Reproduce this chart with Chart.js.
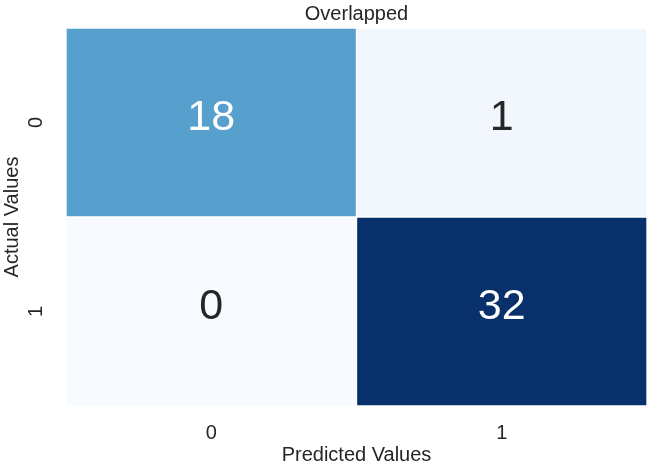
<!DOCTYPE html>
<html>
<head>
<meta charset="utf-8">
<script src="https://cdn.jsdelivr.net/npm/chart.js@4"></script>
<style>
  html, body { margin: 0; padding: 0; background: #ffffff; }
  #wrap { width: 650px; height: 468px; }
</style>
</head>
<body>
<div id="wrap"><canvas id="chart1" width="650" height="468"></canvas></div>
<script>
// confusion matrix values
const predictedLabels = ['0', '1'];
const actualLabels = ['0', '1'];
const row0 = [18, 1];
const row1 = [0, 32];
const matrix = [row0, row1];

// seaborn "Blues" colour stops
const bluesStops = ['#f7fbff', '#deebf7', '#c6dbef', '#9ecae1', '#6baed6', '#4292c6', '#2171b5', '#08519c', '#08306b'];

function hexToRgb(h) {
    return [parseInt(h.substr(1, 2), 16), parseInt(h.substr(3, 2), 16), parseInt(h.substr(5, 2), 16)];
}

function blues(t) {
    t = Math.max(0, Math.min(1, t));
    var pos = t * (bluesStops.length - 1);
    var i = Math.min(Math.floor(pos), bluesStops.length - 2);
    var f = pos - i;
    var a = hexToRgb(bluesStops[i]), b = hexToRgb(bluesStops[i + 1]);
    var c = a.map(function (v, k) { return Math.round(v + (b[k] - v) * f); });
    return 'rgb(' + c[0] + ',' + c[1] + ',' + c[2] + ')';
}

var allValues = [].concat.apply([], matrix);
var vmin = Math.min.apply(null, allValues);
var vmax = Math.max.apply(null, allValues);
var nRows = actualLabels.length;

// stacked bars, bottom row first
var datasets = [];
for (var i = nRows - 1; i >= 0; i--) {
    datasets.push({
        label: actualLabels[i],
        data: predictedLabels.map(function () { return 1; }),
        backgroundColor: matrix[i].map(function (v) { return blues((v - vmin) / (vmax - vmin)); }),
        borderColor: '#ffffff',
        borderWidth: 1,
        borderSkipped: false,
        barPercentage: 1,
        categoryPercentage: 1
    });
}

var cellText = {
    id: 'cellText',
    afterDatasetsDraw: function (chart) {
        var ctx = chart.ctx;
        var xs = chart.scales.x, ys = chart.scales.y;
        ctx.save();
        ctx.font = '43px "Liberation Sans", Arial, sans-serif';
        ctx.textAlign = 'center';
        ctx.textBaseline = 'middle';
        for (var r = 0; r < nRows; r++) {
            for (var c = 0; c < predictedLabels.length; c++) {
                var v = matrix[r][c];
                var t = (v - vmin) / (vmax - vmin);
                ctx.fillStyle = t > 0.45 ? '#ffffff' : '#262626';
                ctx.fillText(String(v), xs.getPixelForValue(c), ys.getPixelForValue(nRows - r - 0.5) - 4);
            }
        }
        ctx.restore();
    }
};

var font20 = { family: '"Liberation Sans", Arial, sans-serif', size: 20, weight: 'normal' };

var ctx = document.getElementById('chart1').getContext('2d');
var heat = new Chart(ctx, {
    type: 'bar',
    data: {
        labels: predictedLabels,
        datasets: datasets
    },
    options: {
        responsive: false,
        animation: false,
        layout: { padding: { left: 0, right: 3, top: 0, bottom: 0 } },
        plugins: {
            legend: { display: false },
            tooltip: { enabled: false },
            title: {
                display: true,
                text: 'Overlapped',
                color: '#262626',
                font: font20,
                fullSize: false,
                padding: { top: 2, bottom: 2 }
            }
        },
        scales: {
            x: {
                stacked: true,
                grid: { display: false, drawTicks: false },
                border: { display: false },
                ticks: { color: '#262626', font: font20, padding: 15 },
                title: {
                    display: true,
                    text: 'Predicted Values',
                    color: '#262626',
                    font: font20,
                    padding: { top: 0, bottom: 1 }
                },
                afterFit: function (s) {
                    s.height = 62;
                    s.paddingLeft = 0;
                    s.paddingRight = 0;
                }
            },
            y: {
                type: 'linear',
                stacked: true,
                min: 0,
                max: nRows,
                grid: { display: false, drawTicks: false },
                border: { display: false },
                afterBuildTicks: function (axis) {
                    axis.ticks = actualLabels.map(function (l, k) { return { value: nRows - k - 0.5 }; });
                },
                ticks: {
                    color: '#262626',
                    font: font20,
                    minRotation: 90,
                    maxRotation: 90,
                    crossAlign: 'center',
                    padding: 24,
                    callback: function (value) { return actualLabels[Math.round(nRows - 0.5 - value)]; }
                },
                title: {
                    display: true,
                    text: 'Actual Values',
                    color: '#262626',
                    font: font20,
                    padding: { top: 0, bottom: 0 }
                },
                afterFit: function (s) {
                    s.width = 66;
                    s.paddingTop = 0;
                    s.paddingBottom = 0;
                }
            }
        }
    },
    plugins: [cellText]
});
</script>
</body>
</html>
